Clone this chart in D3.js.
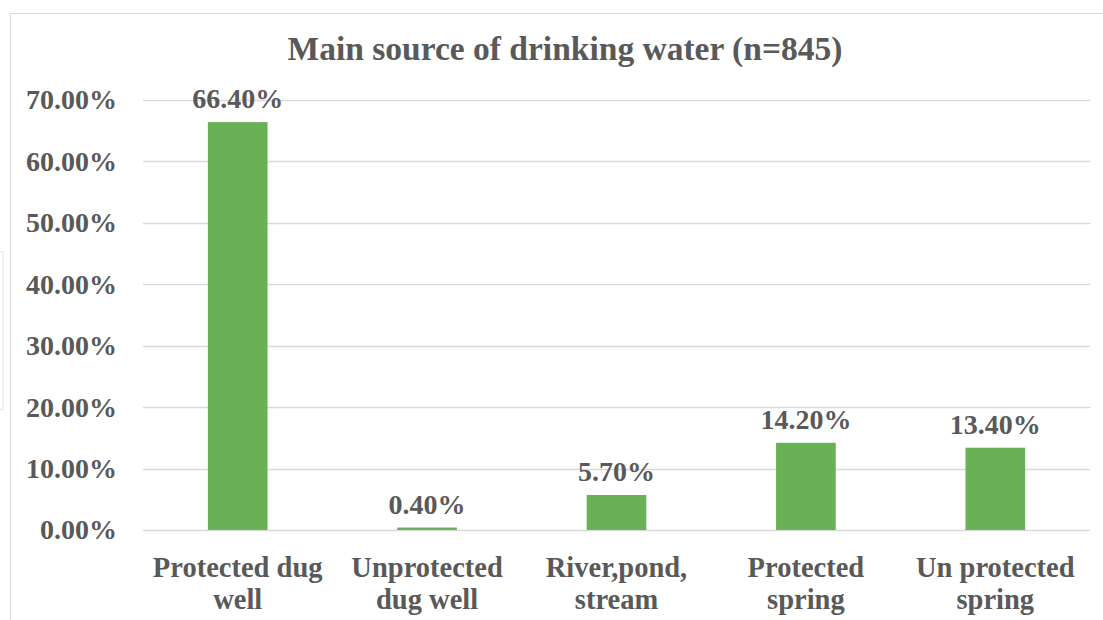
<!DOCTYPE html>
<html>
<head>
<meta charset="utf-8">
<script src="https://cdn.jsdelivr.net/npm/d3@7/dist/d3.min.js"></script>
<style>html,body{margin:0;background:#fff}</style>
</head>
<body>
<svg id="chart" width="1103" height="620"></svg>
<script>
// Drinking water sources and their shares (percent)
const categories = [
  ["Protected dug", "well"],
  ["Unprotected", "dug well"],
  ["River,pond,", "stream"],
  ["Protected", "spring"],
  ["Un protected", "spring"]
];
const shares = [66.4, 0.4, 5.7, 14.2, 13.4];
const yTicks = [0, 10, 20, 30, 40, 50, 60, 70];
const titleText = "Main source of drinking water (n=845)";

const FONT = "'Liberation Serif'";
const TEXT_COLOR = "#595959";
const svg = d3.select("#chart");
const W = 1103, H = 620;
const margin = { left: 143, right: 13, top: 100, bottom: 90 };
const plotW = W - margin.left - margin.right;
const plotH = H - margin.top - margin.bottom;

// apply the shared label font to a text selection
function labelFont(sel, size) {
  sel.attr("font-family", FONT).attr("font-weight", "bold")
     .attr("font-size", size).attr("fill", TEXT_COLOR);
}

// chart frame
svg.append("rect")
  .attr("x", 10.5).attr("y", 13.5)
  .attr("width", 1120).attr("height", 640)
  .attr("fill", "none").attr("stroke", "#d9d9d9").attr("stroke-width", 1);

// faint leftover box at the far left edge
svg.append("rect")
  .attr("x", -5).attr("y", 251.5).attr("width", 8).attr("height", 158)
  .attr("fill", "none").attr("stroke", "#e6e6e6");

const x = d3.scaleBand()
  .domain(d3.range(categories.length))
  .range([margin.left, margin.left + plotW])
  .paddingInner(0.685).paddingOuter(0.3425);

const y = d3.scaleLinear().domain([0, 70]).range([margin.top + plotH, margin.top]);

// gridlines
svg.append("g")
  .selectAll("line").data(yTicks).join("line")
  .attr("x1", margin.left).attr("x2", margin.left + plotW)
  .attr("y1", d => Math.round(y(d)) + 0.5).attr("y2", d => Math.round(y(d)) + 0.5)
  .attr("stroke", "#d9d9d9").attr("stroke-width", 1.5);

// y axis labels
const yAxis = d3.axisLeft(y).tickValues(yTicks).tickSize(0).tickPadding(26)
  .tickFormat(d => d.toFixed(2) + "%");
const gy = svg.append("g").attr("transform", `translate(${margin.left},0)`).call(yAxis);
gy.attr("font-family", null).attr("font-size", null);
gy.select(".domain").remove();
labelFont(gy.selectAll("text"), 28);

// bars
svg.append("g")
  .selectAll("rect").data(shares).join("rect")
  .attr("x", (d, i) => x(i)).attr("width", x.bandwidth())
  .attr("y", d => y(d)).attr("height", d => y(0) - y(d))
  .attr("fill", "#6ab155");

// value labels
const vals = svg.append("g")
  .selectAll("text").data(shares).join("text")
  .attr("x", (d, i) => x(i) + x.bandwidth() / 2)
  .attr("y", d => y(d) - 14)
  .attr("text-anchor", "middle")
  .text(d => d.toFixed(2) + "%");
labelFont(vals, 28);

// category labels
const cat = svg.append("g")
  .selectAll("text").data(categories).join("text")
  .attr("x", (d, i) => x(i) + x.bandwidth() / 2)
  .attr("y", 577)
  .attr("text-anchor", "middle");
labelFont(cat, 28.5);
cat.selectAll("tspan").data(d => d).join("tspan")
  .attr("x", function () { return d3.select(this.parentNode).attr("x"); })
  .attr("dy", (d, i) => i === 0 ? 0 : 32)
  .text(d => d);

// title
const title = svg.append("text")
  .attr("x", 565).attr("y", 60)
  .attr("text-anchor", "middle")
  .text(titleText);
labelFont(title, 33.5);
</script>
</body>
</html>
